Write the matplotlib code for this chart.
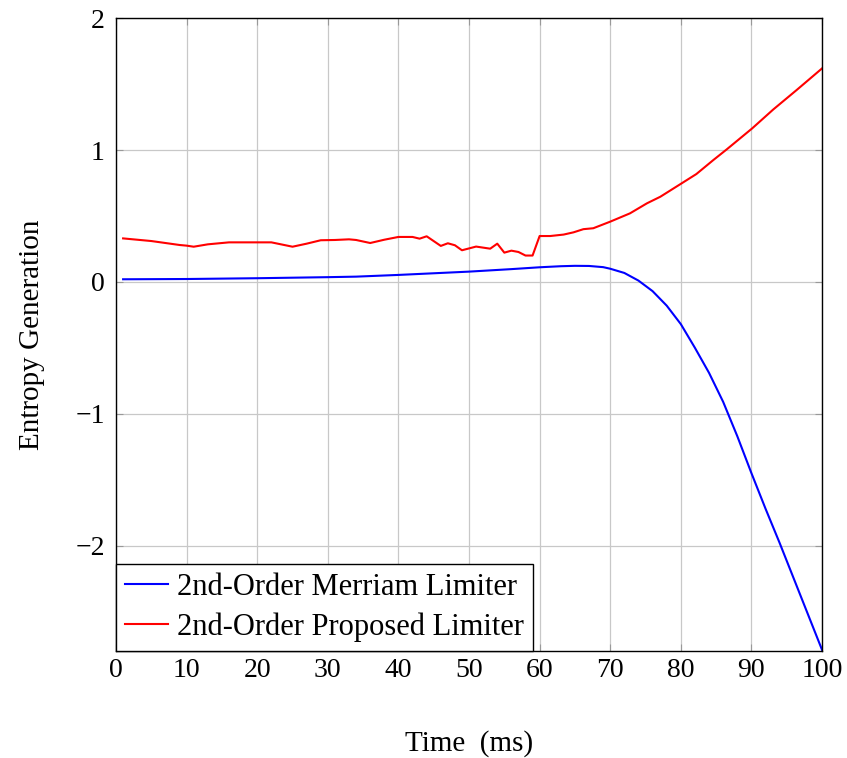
import matplotlib.pyplot as plt
import numpy as np

plt.rcParams['font.family'] = ['Liberation Serif', 'DejaVu Serif']

# 2nd-order Merriam limiter
t_merriam = [1, 10, 20, 30, 34, 40, 50, 56, 60, 63, 65, 67, 69, 70, 72, 74,
             76, 78, 80, 82, 84, 86, 88, 90, 92, 94, 96, 98, 100]
s_merriam = [0.02, 0.022, 0.028, 0.036, 0.04, 0.053, 0.078, 0.097, 0.111,
             0.119, 0.122, 0.121, 0.112, 0.10, 0.068, 0.010, -0.07, -0.18,
             -0.32, -0.50, -0.69, -0.91, -1.17, -1.45, -1.72, -1.98, -2.25,
             -2.52, -2.79]

# 2nd-order proposed limiter
t_proposed = [1, 5, 9, 10, 11, 13, 16, 18, 20, 22, 25, 27, 29, 31, 33, 34,
              36, 38, 40, 42, 43, 44, 46, 47, 48, 49, 51, 53, 54, 55, 56,
              57, 58, 59, 60, 61.5, 63.4, 64.8, 66.2, 67.6, 70, 72.8, 75.2,
              77.1, 80.1, 82.2, 84.6, 86.5, 90.1, 93.1, 96.4, 100]
s_proposed = [0.33, 0.31, 0.28, 0.275, 0.267, 0.285, 0.30, 0.30, 0.30, 0.30,
              0.267, 0.29, 0.316, 0.318, 0.323, 0.318, 0.295, 0.32, 0.341,
              0.341, 0.328, 0.346, 0.273, 0.293, 0.278, 0.24, 0.268, 0.252,
              0.29, 0.222, 0.237, 0.227, 0.20, 0.20, 0.348, 0.348, 0.359,
              0.376, 0.40, 0.407, 0.457, 0.52, 0.596, 0.646, 0.747, 0.818,
              0.924, 1.005, 1.164, 1.308, 1.455, 1.619]

fig = plt.figure(figsize=(8.47, 7.58), dpi=100)
ax = fig.add_axes([0.137, 0.141, 0.8335, 0.835])

ax.plot(t_merriam, s_merriam, color='#0000ff', lw=1.5,
        label='2nd-Order Merriam Limiter')
ax.plot(t_proposed, s_proposed, color='#ff0000', lw=1.5,
        label='2nd-Order Proposed Limiter')

ax.set_xlim(0, 100)
ax.set_ylim(-2.8, 2)
ax.set_xticks(np.arange(0, 101, 10))
ax.set_yticks([-2, -1, 0, 1, 2])
ax.set_yticklabels(['\u22122', '\u22121', '0', '1', '2'])
ax.grid(True, color='#c8c8c8', lw=0.9)
ax.tick_params(direction='in', top=True, right=True, labelsize=20,
               color='#999999', length=5)
ax.tick_params(axis='x', pad=5)
ax.tick_params(axis='y', pad=8)
for s in ax.spines.values():
    s.set_linewidth(1.0)

ax.set_xlabel('Time  (ms)', fontsize=21, labelpad=34)
ax.set_ylabel('Entropy Generation', fontsize=21, labelpad=22)

leg = ax.legend(loc='lower left', fontsize=22, frameon=True, fancybox=False,
                edgecolor='black', framealpha=1, borderaxespad=0,
                handlelength=1.4, handletextpad=0.3, borderpad=0.3,
                labelspacing=0.35)
leg.get_frame().set_linewidth(1.0)

fig.savefig('out.png', dpi=100)
